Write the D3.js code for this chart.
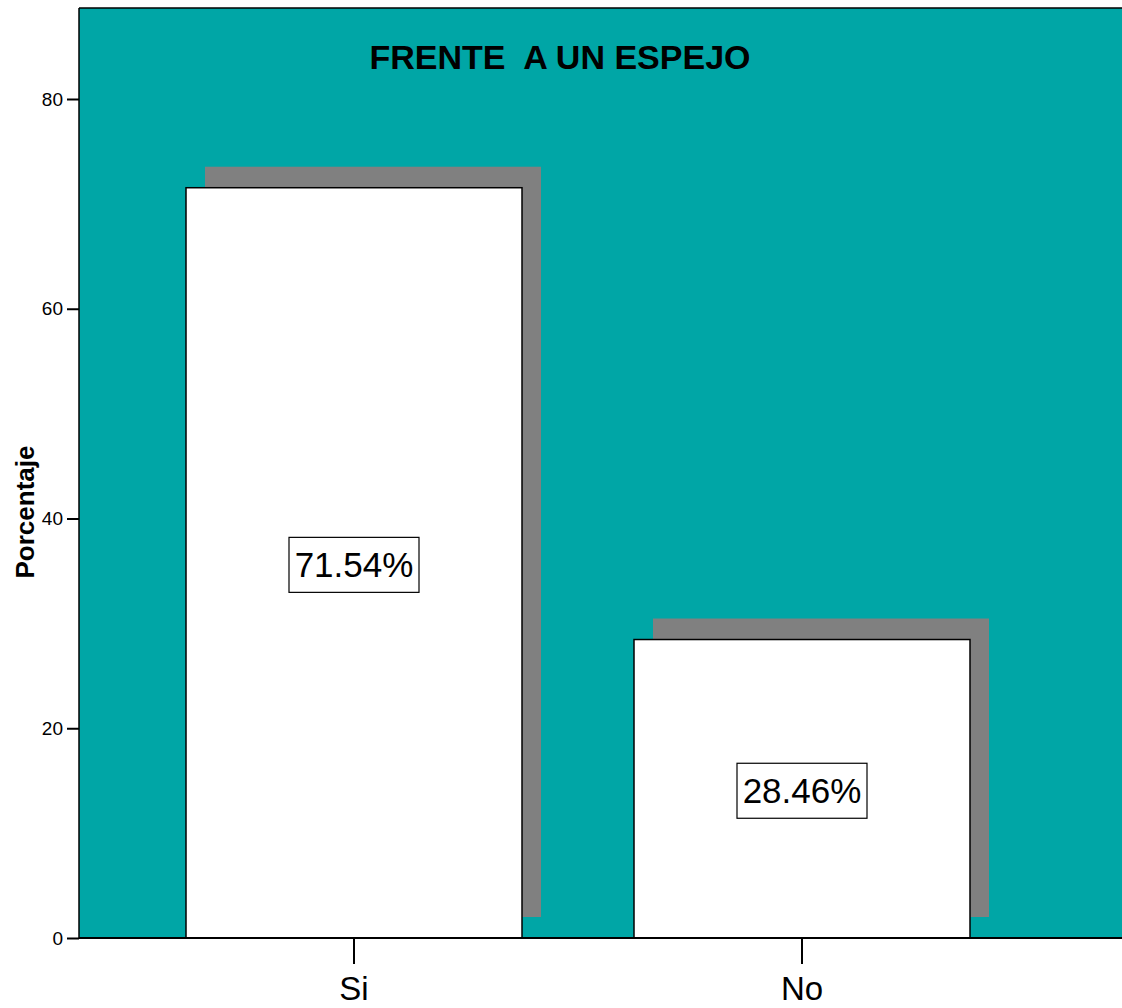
<!DOCTYPE html>
<html>
<head>
<meta charset="utf-8">
<script src="https://cdn.jsdelivr.net/npm/d3@7/dist/d3.min.js"></script>
<style>
  html, body { margin: 0; padding: 0; background: #fff; }
  svg { display: block; font-family: Arial, "Liberation Sans", sans-serif; }
</style>
</head>
<body>
<script>
// Data
const categories = ["Si", "No"];
const percentages = [71.54, 28.46];
const yTicks = [0, 20, 40, 60, 80];
const chartTitle = "FRENTE  A UN ESPEJO";
const yTitle = "Porcentaje";

const W = 1122, H = 1008;
const plot = { left: 79, top: 8, right: 1122, bottom: 938 };

const svg = d3.select("body").append("svg").attr("width", W).attr("height", H);

const y = d3.scaleLinear().domain([0, 80]).range([plot.bottom, 99]);
const x = d3.scaleBand().domain(categories).range([130, 1026])
  .paddingInner(0.25).paddingOuter(0.125);

const shadowDx = 19, shadowDy = -21;

// Plot background
svg.append("rect")
  .attr("x", plot.left).attr("y", plot.top)
  .attr("width", plot.right - plot.left).attr("height", plot.bottom - plot.top)
  .attr("fill", "#00A6A6");
svg.append("line")
  .attr("x1", plot.left).attr("x2", plot.right)
  .attr("y1", plot.top).attr("y2", plot.top)
  .attr("stroke", "#000").attr("stroke-width", 1.5);

const rows = categories.map((c, i) => ({ c, v: percentages[i] }));

// Drop shadows
svg.append("g").selectAll("rect").data(rows).join("rect")
  .attr("x", d => x(d.c) + shadowDx)
  .attr("y", d => y(d.v) + shadowDy)
  .attr("width", x.bandwidth())
  .attr("height", d => y(0) - y(d.v))
  .attr("fill", "#808080");

// Bars
svg.append("g").selectAll("rect").data(rows).join("rect")
  .attr("x", d => x(d.c))
  .attr("y", d => y(d.v))
  .attr("width", x.bandwidth())
  .attr("height", d => y(0) - y(d.v))
  .attr("fill", "#fff").attr("stroke", "#000").attr("stroke-width", 1.5);

// Value labels in boxes
const lbl = svg.append("g").selectAll("g").data(rows).join("g")
  .attr("transform", d => `translate(${x(d.c) + x.bandwidth() / 2},${(y(d.v) + y(0)) / 2 + 2})`);
lbl.append("rect")
  .attr("x", -65).attr("y", -27.5).attr("width", 130).attr("height", 55)
  .attr("fill", "#fff").attr("stroke", "#000").attr("stroke-width", 1.2);
lbl.append("text")
  .attr("text-anchor", "middle").attr("dy", "0.36em")
  .attr("font-size", 35).attr("fill", "#000")
  .text(d => d.v.toFixed(2) + "%");

// Y axis
const yAxis = svg.append("g").attr("transform", `translate(${plot.left},0)`)
  .call(d3.axisLeft(y).tickValues(yTicks).tickSize(12).tickPadding(4));
yAxis.select(".domain").attr("d", `M0,${plot.top}V${plot.bottom}`).attr("stroke-width", 1.5);
yAxis.selectAll(".tick line").attr("stroke-width", 2);
yAxis.selectAll(".tick text").attr("font-size", 19).attr("font-family", "Arial, 'Liberation Sans', sans-serif").attr("fill", "#000");

// X axis
const xAxis = svg.append("g").attr("transform", `translate(0,${plot.bottom})`)
  .call(d3.axisBottom(x).tickSize(26).tickPadding(13));
xAxis.select(".domain").attr("d", `M${plot.left},0H${plot.right}`).attr("stroke-width", 2);
xAxis.selectAll(".tick line").attr("stroke-width", 2);
xAxis.selectAll(".tick text").attr("font-size", 33).attr("font-family", "Arial, 'Liberation Sans', sans-serif").attr("fill", "#000");

// Title
svg.append("text")
  .attr("x", 560).attr("y", 69)
  .attr("text-anchor", "middle")
  .attr("font-size", 34).attr("font-weight", "bold")
  .attr("xml:space", "preserve").style("white-space", "pre")
  .text(chartTitle);

// Y axis title
svg.append("text")
  .attr("transform", "translate(34,512) rotate(-90)")
  .attr("text-anchor", "middle")
  .attr("font-size", 26).attr("font-weight", "bold")
  .text(yTitle);
</script>
</body>
</html>
